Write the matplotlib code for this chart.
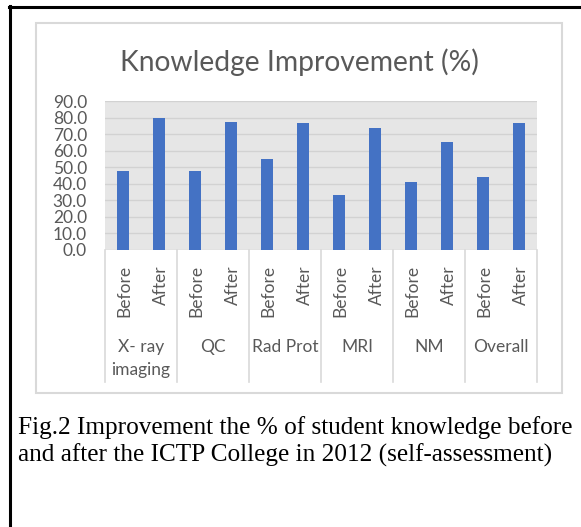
import matplotlib
matplotlib.use("Agg")
import matplotlib.pyplot as plt
from matplotlib.patches import Rectangle
from matplotlib.lines import Line2D
import matplotlib.transforms as mtransforms

# Data
categories = ["X- ray\nimaging", "QC", "Rad Prot", "MRI", "NM", "Overall"]
phases = ["Before", "After"]
before = [48, 48, 55, 33, 41, 44]
after = [80, 77.5, 76.5, 73.5, 65, 76.5]
yticks = [0, 10, 20, 30, 40, 50, 60, 70, 80, 90]
title = "Knowledge Improvement (%)"
caption = ("Fig.2 Improvement the % of student knowledge before\n"
           "and after the ICTP College in 2012 (self-assessment)")

W, H = 581, 527
fig = plt.figure(figsize=(W / 100, H / 100), dpi=100)
fig.patch.set_facecolor("white")

def fx(px):
    return px / W

def fy(py):
    return 1 - py / H

txt = "#595959"
sans = ["Lato", "DejaVu Sans"]

# outer black frame (top and left edges only)
fig.add_artist(Line2D([fx(9), fx(581)], [fy(7), fy(7)], color="black", lw=2.2))
fig.add_artist(Line2D([fx(10), fx(10)], [fy(6), fy(527)], color="black", lw=2.2))

# chart area box
fig.add_artist(Rectangle((fx(36), fy(393)), fx(562) - fx(36), fy(23) - fy(393),
                         fill=False, edgecolor="#d9d9d9", lw=1.5))

# plot area
left, right, top, bottom = 105, 537, 101, 250
ax = fig.add_axes([fx(left), fy(bottom), fx(right) - fx(left), fy(top) - fy(bottom)])
ax.set_facecolor("#e6e6e6")

n = len(categories)
xb = [2 * i for i in range(n)]
xa = [2 * i + 1 for i in range(n)]
ax.bar(xb, before, width=1 / 3, color="#4472c4", zorder=3)
ax.bar(xa, after, width=1 / 3, color="#4472c4", zorder=3)

ax.set_xlim(-0.5, 2 * n - 0.5)
ax.set_ylim(0, 90)
ax.set_yticks(yticks)
ax.set_yticklabels([f"{v:.1f}" for v in yticks], fontsize=12.5, color=txt, family=sans)
ax.tick_params(axis="y", length=0, pad=13)
ax.tick_params(axis="x", length=0)
ax.set_xticks([])
ax.grid(axis="y", color="#d2d2d2", lw=1, zorder=1)
for s in ax.spines.values():
    s.set_visible(False)

# rotated Before/After labels and category labels
trans = mtransforms.blended_transform_factory(ax.transData, ax.transAxes)
for i in range(n):
    for j, lab in enumerate(phases):
        ax.text(2 * i + j + 0.05, -0.1, lab, rotation=90, ha="center", va="top",
                fontsize=12.5, color=txt, family=sans, transform=trans)
    ax.text(2 * i + 0.5, -0.6, categories[i], ha="center", va="top",
            fontsize=12.5, color=txt, family=sans, transform=trans, linespacing=1.5)

sep_bottom = -(382 - bottom) / (bottom - top)
for k in range(n + 1):
    ax.add_line(Line2D([2 * k - 0.5, 2 * k - 0.5], [0, sep_bottom], transform=trans,
                       color="#d9d9d9", lw=1.2, clip_on=False))

fig.text(fx(299), fy(62), title, ha="center", va="center", fontsize=20.3,
         color=txt, family=sans)

fig.text(fx(18), fy(416), caption, ha="left", va="top", fontsize=18.2,
         family=["Liberation Serif", "DejaVu Serif"], color="black", linespacing=1.25)

fig.savefig("out.png", dpi=100)
